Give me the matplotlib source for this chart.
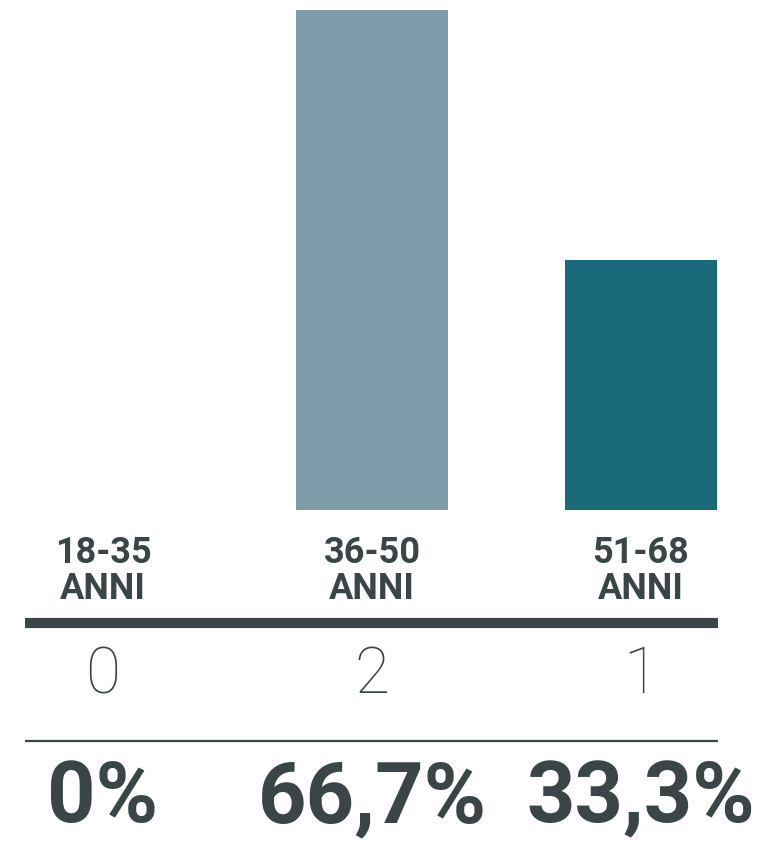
import matplotlib.pyplot as plt
import matplotlib.transforms as mtransforms
from matplotlib.lines import Line2D

# data
fasce = ["18-35\nANNI", "36-50\nANNI", "51-68\nANNI"]
conteggi = [0, 2, 1]
percentuali = ["0%", "66,7%", "33,3%"]
colori = ["#B8C7CF", "#7F9CAA", "#1A6A7B"]

testo = "#3A4548"
W, H = 764, 843

fig = plt.figure(figsize=(W / 100, H / 100), dpi=100)
ax = fig.add_axes([0, 0, 1, 1])

# 269 px between categories, first centre at x=103 px
ax.bar(range(len(conteggi)), conteggi, width=152 / 269, color=colori)
ax.set_xlim(-103 / 269, (W - 103) / 269)
# y=0 at pixel 510 from top, 250 px per unit
ax.set_ylim(-(H - 510) / 250, 2 + 10 / 250)
ax.axis("off")


def fy(px):
    return 1 - px / H


def fx(px):
    return px / W


# x in data units, y in figure fraction
tr = mtransforms.blended_transform_factory(ax.transData, fig.transFigure)

for i, (lab, n, p) in enumerate(zip(fasce, conteggi, percentuali)):
    ax.text(i, fy(599), lab, transform=tr, ha="center", va="baseline",
            family="Roboto", weight="bold", fontsize=26, color=testo,
            linespacing=1.0)
    ax.text(i, fy(693), str(n), transform=tr, ha="center", va="baseline",
            family="Roboto", weight="light", fontsize=46, color=testo)
    ax.text(i, fy(822), p, transform=tr, ha="center", va="baseline",
            family="Roboto", weight="bold", fontsize=61, color=testo)

fig.add_artist(Line2D([fx(25), fx(718)], [fy(623), fy(623)], lw=7.3,
                      color=testo, solid_capstyle="butt"))
fig.add_artist(Line2D([fx(25), fx(718)], [fy(741), fy(741)], lw=1.6,
                      color=testo, solid_capstyle="butt"))

fig.savefig("out.png", dpi=100)
